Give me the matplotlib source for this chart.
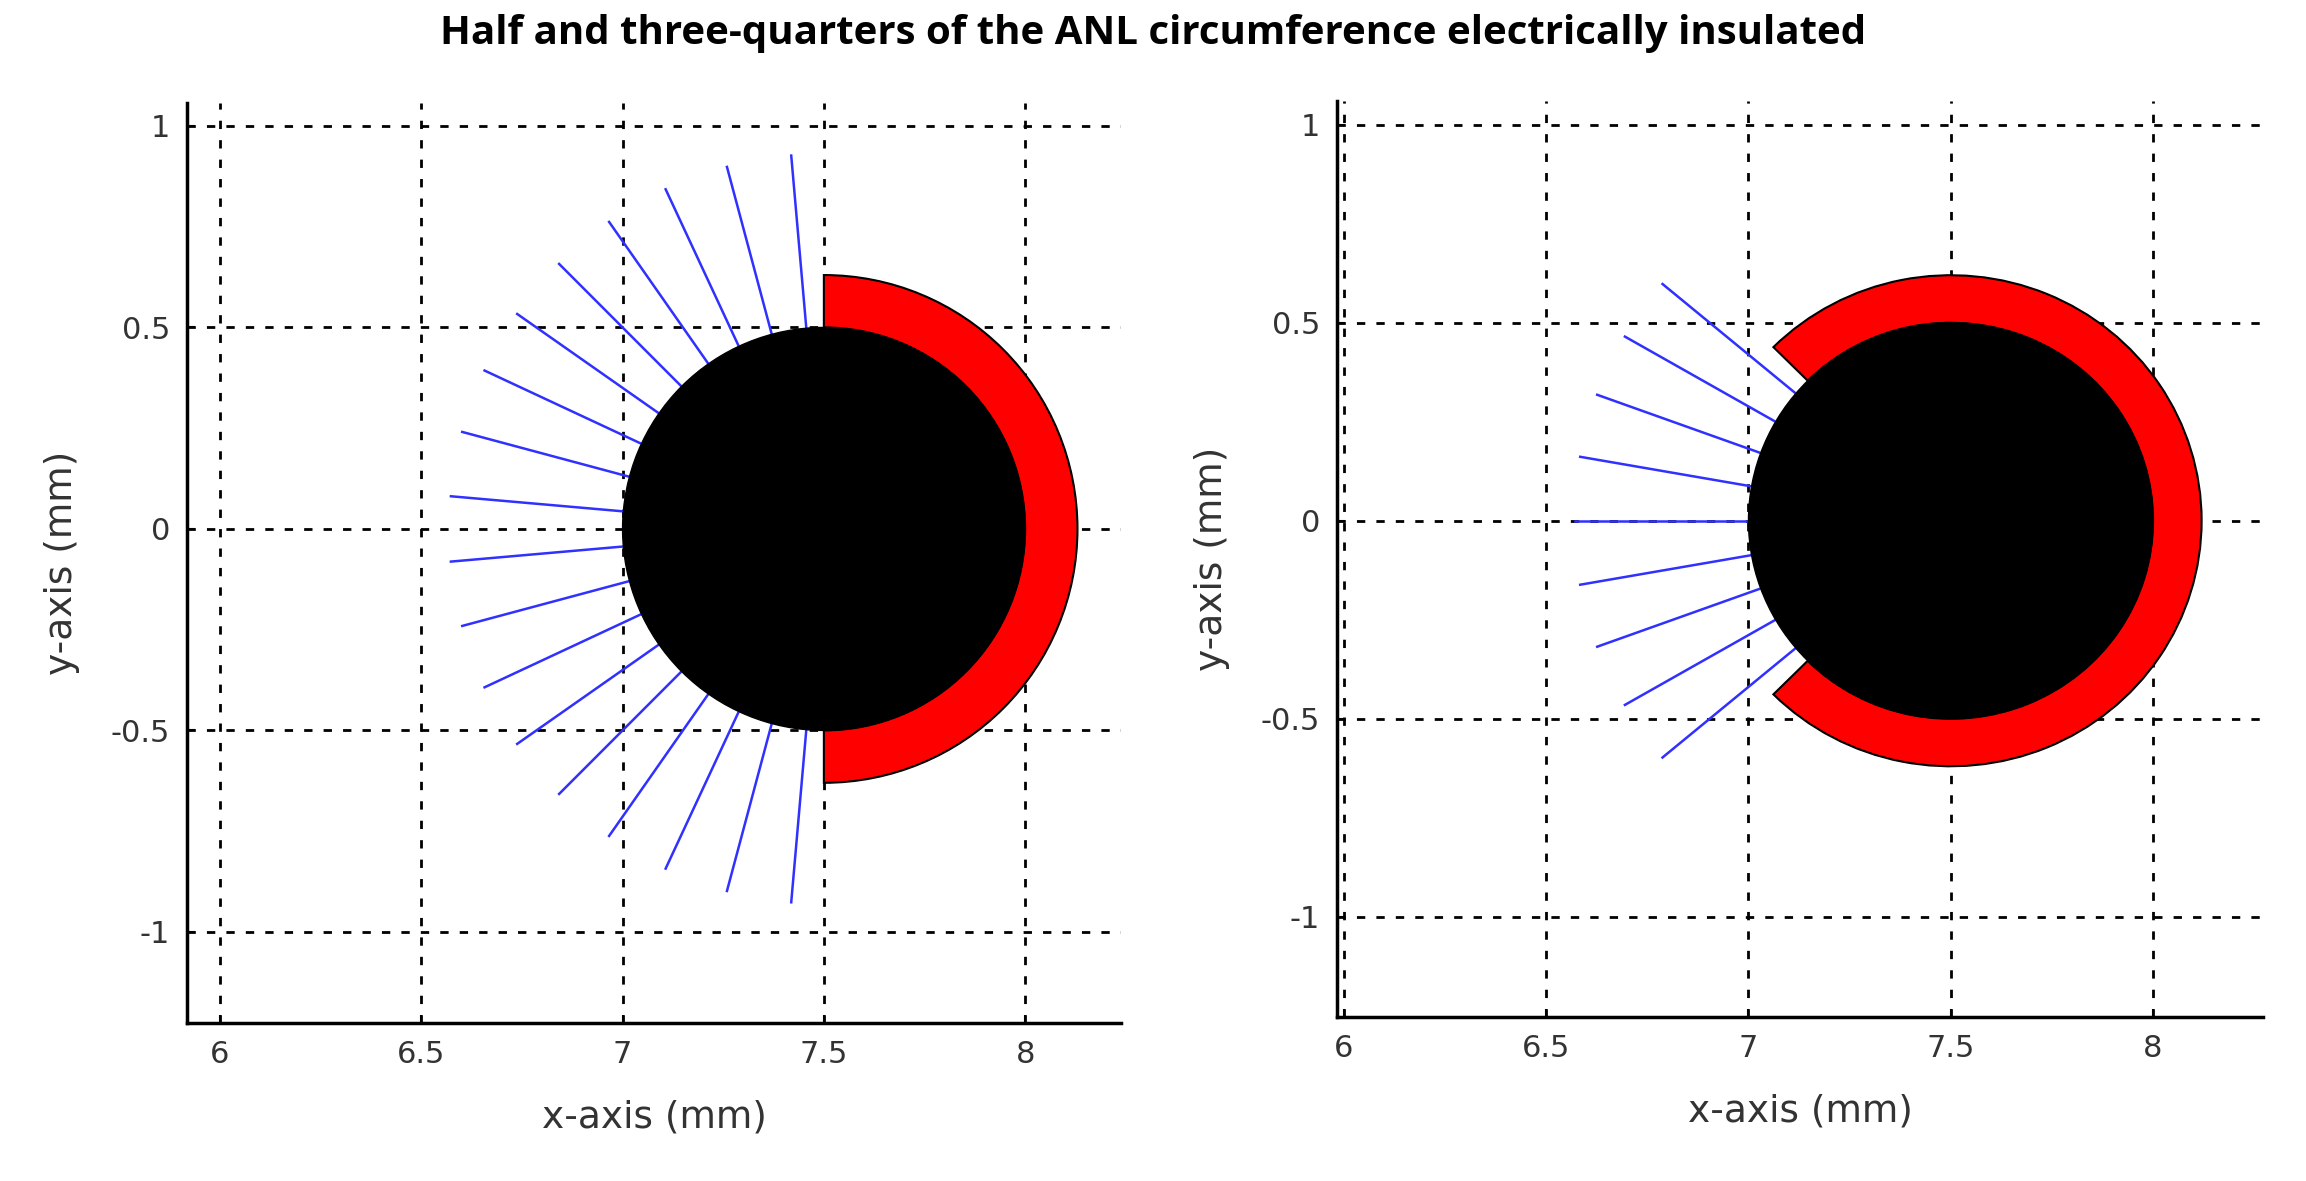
import numpy as np
import matplotlib.pyplot as plt
from matplotlib.patches import Circle, Wedge

title = "Half and three-quarters of the ANL circumference electrically insulated"
xticks = [6, 6.5, 7, 7.5, 8]
xticklabels = ["6", "6.5", "7", "7.5", "8"]
yticks = [-1, -0.5, 0, 0.5, 1]
yticklabels = ["-1", "-0.5", "0", "0.5", "1"]
center = (7.5, 0.0)
core_radius = 0.5
left_ring = (0.5, 0.63, -90, 90)          # inner, outer, theta1, theta2
right_ring = (0.5, 0.62, -135, 135)
left_line_angles = [95, 105, 115, 125, 135, 145, 155, 165, 175,
                    185, 195, 205, 215, 225, 235, 245, 255, 265]
right_line_angles = [140, 150, 160, 170, 180, 190, 200, 210, 220]
line_outer = 0.93

fig = plt.figure(figsize=(23.06, 11.81), dpi=100)
fig.text(0.5, 0.972, title, ha='center', va='center', fontsize=29,
         fontweight='bold', family='Open Sans')

specs = [
    ([0.0811, 0.1338, 0.405, 0.779], (5.918, 8.238), (-1.226, 1.057), left_ring, left_line_angles),
    ([0.5798, 0.1389, 0.4016, 0.7756], (5.983, 8.272), (-1.253, 1.06), right_ring, right_line_angles),
]
for rect, xl, yl, ring, angles in specs:
    ax = fig.add_axes(rect)
    ax.set_xlim(*xl); ax.set_ylim(*yl)
    for a in angles:
        t = np.deg2rad(a)
        ax.plot([center[0] + 0.45*np.cos(t), center[0] + line_outer*np.cos(t)],
                [center[1] + 0.45*np.sin(t), center[1] + line_outer*np.sin(t)],
                color='#3030ff', lw=1.8, zorder=2)
    rin, rout, t1, t2 = ring
    ax.add_patch(Wedge(center, rout, t1, t2, width=rout-rin, facecolor='#ff0000',
                       edgecolor='black', lw=1.5, zorder=3))
    ax.add_patch(Circle(center, core_radius, facecolor='black', edgecolor='black', zorder=4))
    ax.set_xticks(xticks); ax.set_xticklabels(xticklabels)
    ax.set_yticks(yticks); ax.set_yticklabels(yticklabels)
    ax.grid(True, color='black', linestyle=(0, (3, 4)), lw=2, zorder=1)
    ax.set_axisbelow(True)
    for s in ['top', 'right']:
        ax.spines[s].set_visible(False)
    for s in ['left', 'bottom']:
        ax.spines[s].set_linewidth(2.5)
    ax.tick_params(labelsize=22, labelcolor='#333333', direction='in', length=6, width=1.5, pad=12)
    ax.set_xlabel('x-axis (mm)', fontsize=27, color='#333333', labelpad=22)
    ax.set_ylabel('y-axis (mm)', fontsize=27, color='#333333', labelpad=22)

fig.savefig('out.png', dpi=100)
